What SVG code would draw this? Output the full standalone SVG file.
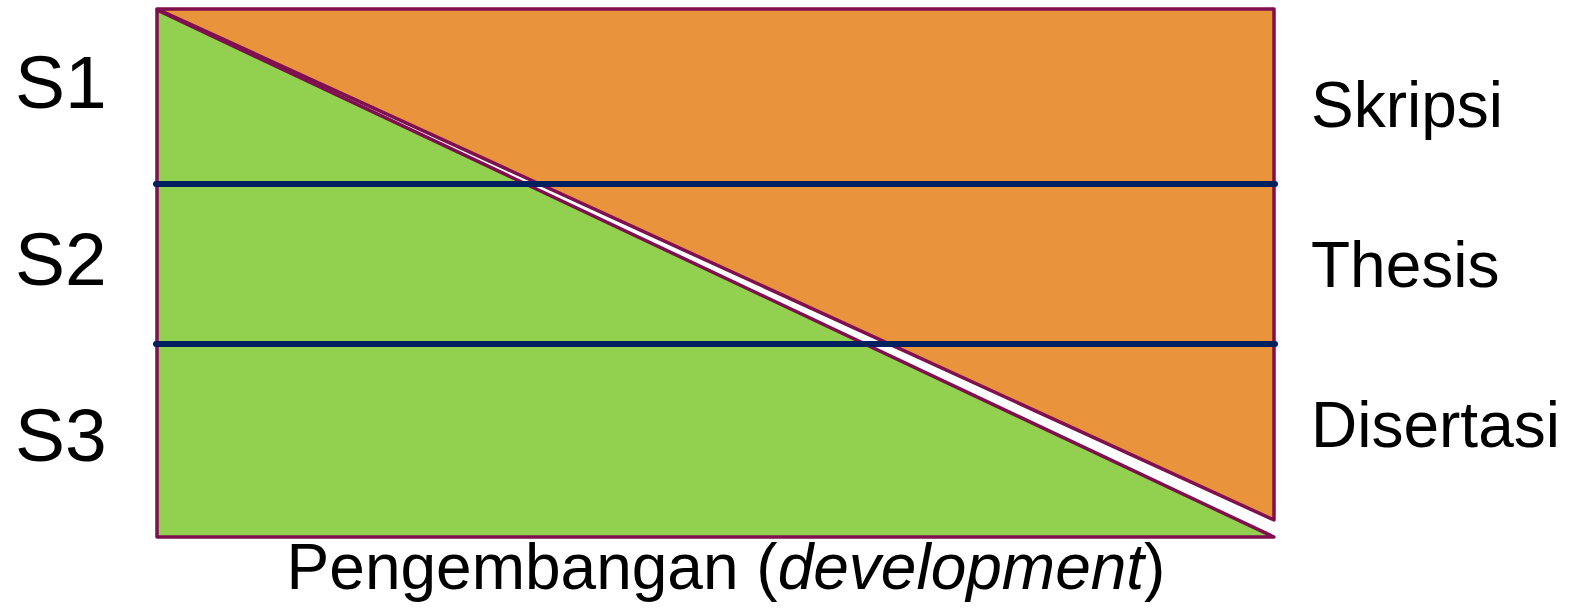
<svg xmlns="http://www.w3.org/2000/svg" width="1571" height="609" viewBox="0 0 1571 609">
  <style>
    .edge { stroke: #7F0F4F; stroke-width: 3.5; stroke-linejoin: round; }
    .band { stroke: #002060; stroke-width: 6; stroke-linecap: round; fill: none; }
    .lvl { font-family: "Liberation Sans", Arial, sans-serif; font-size: 75px; fill: #000; }
    .doc { font-family: "Liberation Sans", Arial, sans-serif; font-size: 64px; fill: #000; }
  </style>
  <rect width="1571" height="609" fill="#fff"/>

  <!-- research share (upper right) -->
  <g id="research">
    <polygon class="edge" points="157,9 1274,9 1274,520" fill="#E9943C"/>
  </g>
  <!-- development share (lower left) -->
  <g id="development">
    <polygon class="edge" points="157,10 157,537 1274,537" fill="#92D050"/>
  </g>

  <!-- level boundaries -->
  <g id="connectors">
    <line class="band" x1="156" y1="184" x2="1275" y2="184"/>
    <line class="band" x1="156" y1="344" x2="1275" y2="344"/>
  </g>

  <g id="s1"><text class="lvl" x="15" y="108">S1</text></g>
  <g id="s2"><text class="lvl" x="15" y="285">S2</text></g>
  <g id="s3"><text class="lvl" x="15" y="461">S3</text></g>

  <g id="skripsi"><text class="doc" x="1311" y="127">Skripsi</text></g>
  <g id="thesis"><text class="doc" x="1311" y="287">Thesis</text></g>
  <g id="disertasi"><text class="doc" x="1311" y="447">Disertasi</text></g>

  <g id="axis-label">
    <text class="doc" x="726" y="589" text-anchor="middle">Pengembangan (<tspan font-style="italic">development</tspan>)</text>
  </g>
</svg>
